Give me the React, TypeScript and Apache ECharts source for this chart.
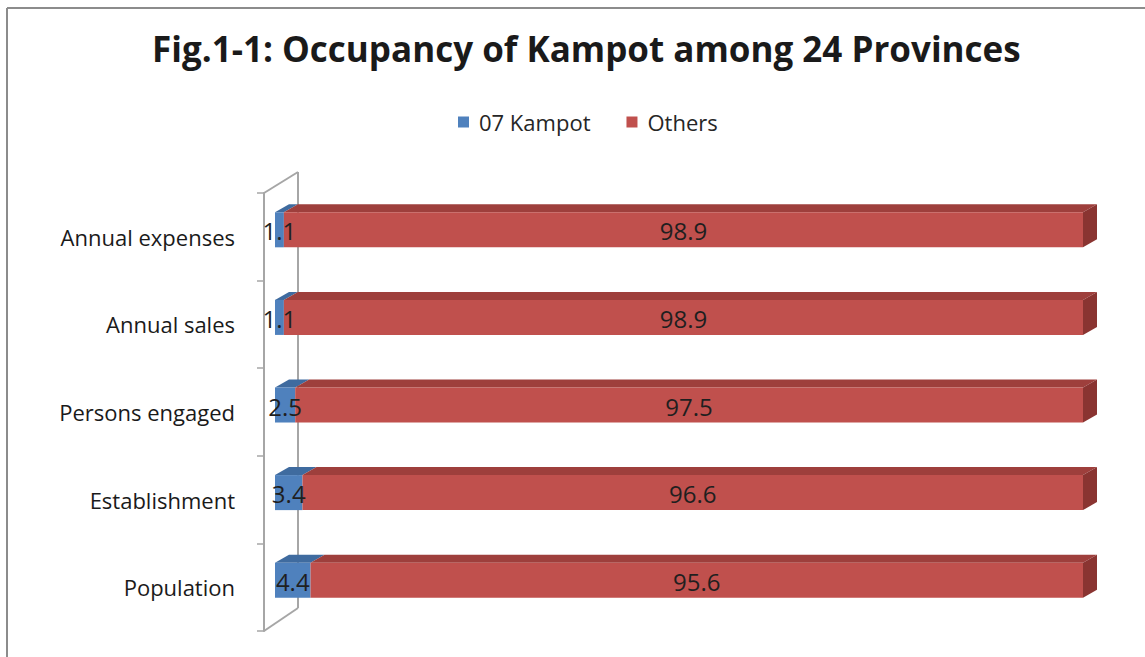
import React, { useEffect, useRef } from "react";
import * as echarts from "echarts";

const categories = ["Population", "Establishment", "Persons engaged", "Annual sales", "Annual expenses"];
const kampot = [4.4, 3.4, 2.5, 1.1, 1.1];
const others = [95.6, 96.6, 97.5, 98.9, 98.9];
const seriesNames = ["07 Kampot", "Others"];
const titleText = "Fig.1-1: Occupancy of Kampot among 24 Provinces";

const FONT = "'Open Sans', 'DejaVu Sans', sans-serif";
const FRONT = ["#4F81BD", "#C0504D"];
const TOP = ["#3F6B9F", "#9E3F3C"];
const SIDE = ["#345A87", "#8A3431"];

function makeRender(idx: number, isLast: boolean) {
  return (params: any, api: any) => {
    const cat = api.value(0);
    const s = api.value(1);
    const e = api.value(2);
    const v = api.value(3);
    const a = api.coord([s, cat]);
    const b = api.coord([e, cat]);
    const band = api.size([0, 1])[1];
    const h = band * 0.4;
    const top = a[1] - h / 2;
    const bottom = a[1] + h / 2;
    const dx = 14;
    const dy = 8;
    const children: any[] = [
      {
        type: "polygon",
        shape: { points: [[a[0], top], [b[0], top], [b[0] + dx, top - dy], [a[0] + dx, top - dy]] },
        style: { fill: TOP[idx] },
      },
      {
        type: "rect",
        shape: { x: a[0], y: top, width: b[0] - a[0], height: h },
        style: { fill: FRONT[idx] },
      },
    ];
    if (isLast) {
      children.push({
        type: "polygon",
        shape: { points: [[b[0], top], [b[0] + dx, top - dy], [b[0] + dx, bottom - dy], [b[0], bottom]] },
        style: { fill: SIDE[idx] },
      });
    }
    children.push({
      type: "text",
      z2: 100,
      style: {
        x: (a[0] + b[0]) / 2,
        y: a[1] + 1,
        text: v.toFixed(1),
        align: "center",
        verticalAlign: "middle",
        font: `24px ${FONT}`,
        fill: "#1f1f1f",
      },
    });
    return { type: "group", children };
  };
}

export default function App() {
  const ref = useRef<HTMLDivElement>(null);
  useEffect(() => {
    if (!ref.current) return;
    const chart = echarts.init(ref.current, undefined, { renderer: "svg" });
    const kData = categories.map((_, i) => [i, 0, kampot[i], kampot[i]]);
    const oData = categories.map((_, i) => [i, kampot[i], kampot[i] + others[i], others[i]]);
    const wall = "#A6A6A6";
    chart.setOption({
      animation: false,
      backgroundColor: "#ffffff",
      title: {
        text: titleText,
        left: 147,
        top: 26,
        textStyle: { fontFamily: FONT, fontSize: 35, fontWeight: "bold", color: "#1a1a1a" },
      },
      legend: {
        left: 453,
        top: 106,
        icon: "rect",
        itemWidth: 11,
        itemHeight: 11,
        itemGap: 36,
        textStyle: { fontFamily: FONT, fontSize: 22, color: "#262626", padding: [0, 0, 0, 5] },
        data: seriesNames,
      },
      graphic: [
        { type: "line", z: 0, shape: { x1: 7, y1: 8, x2: 1145, y2: 8 }, style: { stroke: "#8C8C8C", lineWidth: 2 } },
        { type: "line", z: 0, shape: { x1: 7, y1: 8, x2: 7, y2: 657 }, style: { stroke: "#8C8C8C", lineWidth: 2 } },
        { type: "line", z: 0, shape: { x1: 298, y1: 172, x2: 298, y2: 608 }, style: { stroke: wall, lineWidth: 2 } },
        { type: "line", z: 0, shape: { x1: 264, y1: 193, x2: 298, y2: 172 }, style: { stroke: wall, lineWidth: 2 } },
        { type: "line", z: 0, shape: { x1: 264, y1: 631, x2: 298, y2: 608 }, style: { stroke: wall, lineWidth: 2 } },
      ],
      grid: [
        { left: 275, right: 62, top: 186, height: 438 },
        { left: 264, width: 10, top: 193, height: 438 },
      ],
      xAxis: [
        { type: "value", gridIndex: 0, min: 0, max: 100, show: false },
        { type: "value", gridIndex: 1, min: 0, max: 100, show: false },
      ],
      yAxis: [
        { type: "category", gridIndex: 0, data: categories, show: false },
        {
          type: "category",
          gridIndex: 1,
          data: categories,
          axisLine: { show: true, lineStyle: { color: wall, width: 2 } },
          axisTick: { show: true, length: 7, lineStyle: { color: wall, width: 1.5 } },
          splitLine: { show: false },
          axisLabel: { fontFamily: FONT, fontSize: 22, color: "#1a1a1a", margin: 29 },
        },
      ],
      series: [
        {
          type: "custom",
          name: seriesNames[0],
          xAxisIndex: 0,
          yAxisIndex: 0,
          itemStyle: { color: FRONT[0] },
          renderItem: makeRender(0, false),
          encode: { x: [1, 2], y: 0 },
          data: kData,
        },
        {
          type: "custom",
          name: seriesNames[1],
          xAxisIndex: 0,
          yAxisIndex: 0,
          itemStyle: { color: FRONT[1] },
          renderItem: makeRender(1, true),
          encode: { x: [1, 2], y: 0 },
          data: oData,
        },
      ],
    });
    return () => chart.dispose();
  }, []);
  return (
    <div
      ref={ref}
      style={{ position: "absolute", left: 0, top: 0, width: 1145, height: 657, background: "#fff" }}
    />
  );
}
